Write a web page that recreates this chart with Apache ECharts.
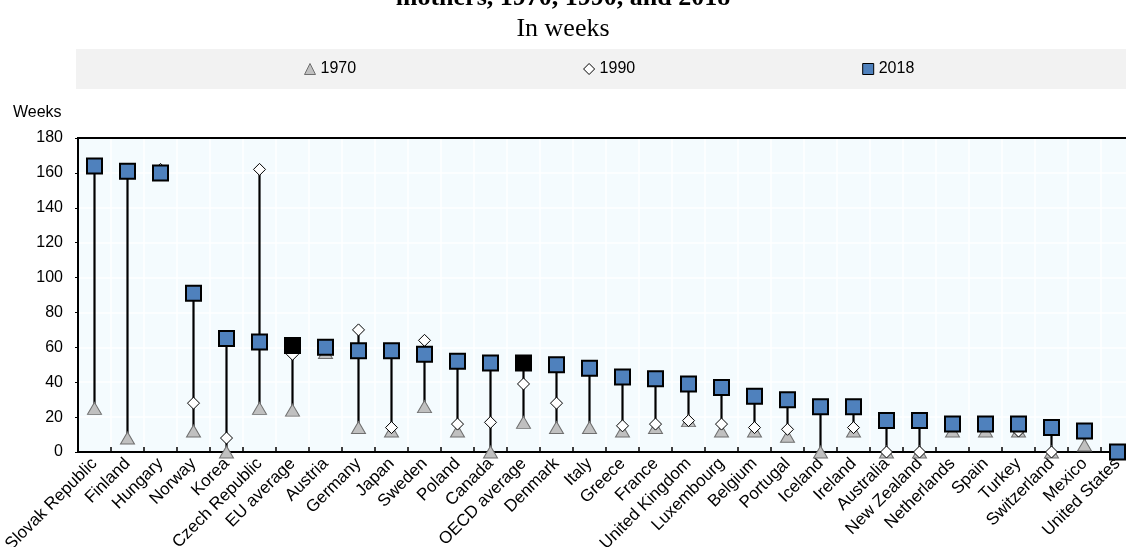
<!DOCTYPE html>
<html>
<head>
<meta charset="utf-8">
<script src="https://cdn.jsdelivr.net/npm/echarts@6/dist/echarts.min.js"></script>
<style>
  html, body { margin: 0; padding: 0; background: #fff; }
  #chart { width: 1126px; height: 547px; }
</style>
</head>
<body>
<div id="chart"></div>
<script>
// countries, sorted by 2018 value
var categories = ['Slovak Republic', 'Finland', 'Hungary', 'Norway', 'Korea', 'Czech Republic', 'EU average',
  'Austria', 'Germany', 'Japan', 'Sweden', 'Poland', 'Canada', 'OECD average', 'Denmark', 'Italy', 'Greece',
  'France', 'United Kingdom', 'Luxembourg', 'Belgium', 'Portugal', 'Iceland', 'Ireland', 'Australia',
  'New Zealand', 'Netherlands', 'Spain', 'Turkey', 'Switzerland', 'Mexico', 'United States'];

// weeks of paid leave
var y1970 = [25, 8, null, 12, 0, 25, 24, 57, 14, 12, 26, 12, 0, 17, 14, 14, 12,
  14, 18, 12, 12, 9, 0, 12, 0, 0, 12, 12, 12, 0, 4, 0];
var y1990 = [null, null, 162, 28, 8, 162, 56, null, 70, 14, 64, 16, 17, 39, 28, null, 15,
  16, 18, 16, 14, 13, null, 14, 0, 0, null, null, 12, 0, null, 0];
var y2018 = [164, 161, 160, 91, 65, 63, 61, 60, 58, 58, 56, 52, 51, 51, 50, 48, 43,
  42, 39, 37, 32, 30, 26, 26, 18, 18, 16, 16, 16, 14, 12, 0];

var yTicks = [0, 20, 40, 60, 80, 100, 120, 140, 160, 180];
var averages = ['EU average', 'OECD average'];

var font = 'Liberation Sans, Arial, sans-serif';
var serif = 'Liberation Serif, Times New Roman, serif';

// range line for each country: lowest to highest year value
var ranges = categories.map(function (c, i) {
  var vals = [y1970[i], y1990[i], y2018[i]].filter(function (v) { return v !== null; });
  return [i, Math.min.apply(null, vals), Math.max.apply(null, vals)];
});

function toData(arr) {
  return arr.map(function (v) { return v === null ? '-' : v; });
}

var data2018 = y2018.map(function (v, i) {
  if (averages.indexOf(categories[i]) >= 0) {
    return { value: v, itemStyle: { color: '#000' } };
  }
  return v;
});

var chart = echarts.init(document.getElementById('chart'), null, { renderer: 'canvas' });

var option = {
  backgroundColor: '#fff',
  animation: false,
  textStyle: { fontFamily: font },
  title: [{
    text: 'mothers, 1970, 1990, and 2018',
    left: 'center',
    top: -20,
    textStyle: { fontFamily: serif, fontSize: 26, fontWeight: 'bold', color: '#000', lineHeight: 26 }
  }, {
    text: 'In weeks',
    left: 'center',
    top: 11,
    textStyle: { fontFamily: serif, fontSize: 26, fontWeight: 'normal', color: '#000', lineHeight: 26 }
  }],
  graphic: [{
    type: 'rect',
    shape: { x: 76, y: 49, width: 1060, height: 40 },
    style: { fill: '#f2f2f2' },
    z: -1
  }, {
    type: 'text',
    left: 13,
    top: 105,
    style: { text: 'Weeks', font: '16px ' + font, fill: '#000' }
  }],
  legend: {
    left: 304,
    top: 61,
    padding: 0,
    itemGap: 227,
    itemWidth: 11,
    itemHeight: 11,
    itemStyle: { borderWidth: 1 },
    textStyle: { fontSize: 16, color: '#000', fontFamily: font },
    data: [
      { name: '1970', icon: 'triangle' },
      { name: '1990', icon: 'diamond' },
      { name: '2018', icon: 'rect' }
    ]
  },
  grid: {
    left: 78,
    right: -8,
    top: 138,
    bottom: 95,
    containLabel: false,
    outerBoundsMode: 'none',
    show: true,
    backgroundColor: '#f4fbfe',
    borderColor: '#000',
    borderWidth: 2
  },
  xAxis: [{
    type: 'category',
    data: categories,
    boundaryGap: true,
    axisLine: { show: true, lineStyle: { color: '#000', width: 2 } },
    axisTick: { show: true, inside: true, length: 5, lineStyle: { color: '#000', width: 1.5 } },
    splitLine: { show: true, lineStyle: { color: '#ffffff', width: 1.5 } },
    axisLabel: { interval: 0, rotate: 45, fontSize: 17, color: '#000', margin: 9, fontFamily: font }
  }, {
    // top frame line of the plot
    type: 'category',
    data: categories,
    position: 'top',
    axisLine: { show: true, lineStyle: { color: '#000', width: 2 } },
    axisTick: { show: false },
    axisLabel: { show: false },
    splitLine: { show: false }
  }],
  yAxis: {
    type: 'value',
    min: yTicks[0],
    max: yTicks[yTicks.length - 1],
    interval: yTicks[1] - yTicks[0],
    axisLine: { show: true, lineStyle: { color: '#000', width: 2 } },
    axisTick: { show: true, length: 3, lineStyle: { color: '#000', width: 1 } },
    splitLine: { show: true, lineStyle: { color: '#ffffff', width: 1.5 } },
    axisLabel: { fontSize: 16, color: '#000', margin: 15, fontFamily: font }
  },
  series: [{
    type: 'custom',
    name: 'range',
    data: ranges,
    encode: { x: 0, y: [1, 2] },
    z: 2,
    silent: true,
    renderItem: function (params, api) {
      var i = api.value(0);
      var lo = api.coord([i, api.value(1)]);
      var hi = api.coord([i, api.value(2)]);
      return {
        type: 'line',
        shape: { x1: lo[0], y1: lo[1], x2: hi[0], y2: hi[1] },
        style: { stroke: '#000', lineWidth: 2.2 }
      };
    }
  }, {
    type: 'scatter',
    name: '1970',
    data: toData(y1970),
    symbol: 'triangle',
    symbolSize: [14, 12],
    z: 3,
    itemStyle: { color: '#c0c0c0', borderColor: '#6f6f6f', borderWidth: 1, opacity: 1 }
  }, {
    type: 'scatter',
    name: '1990',
    data: toData(y1990),
    symbol: 'diamond',
    symbolSize: 12,
    z: 4,
    itemStyle: { color: '#ffffff', borderColor: '#000', borderWidth: 1, opacity: 1 }
  }, {
    type: 'scatter',
    name: '2018',
    data: data2018,
    symbol: 'rect',
    symbolSize: 15,
    z: 5,
    itemStyle: { color: '#4f81bd', borderColor: '#000', borderWidth: 2, opacity: 1 }
  }]
};

chart.setOption(option);
</script>
</body>
</html>
